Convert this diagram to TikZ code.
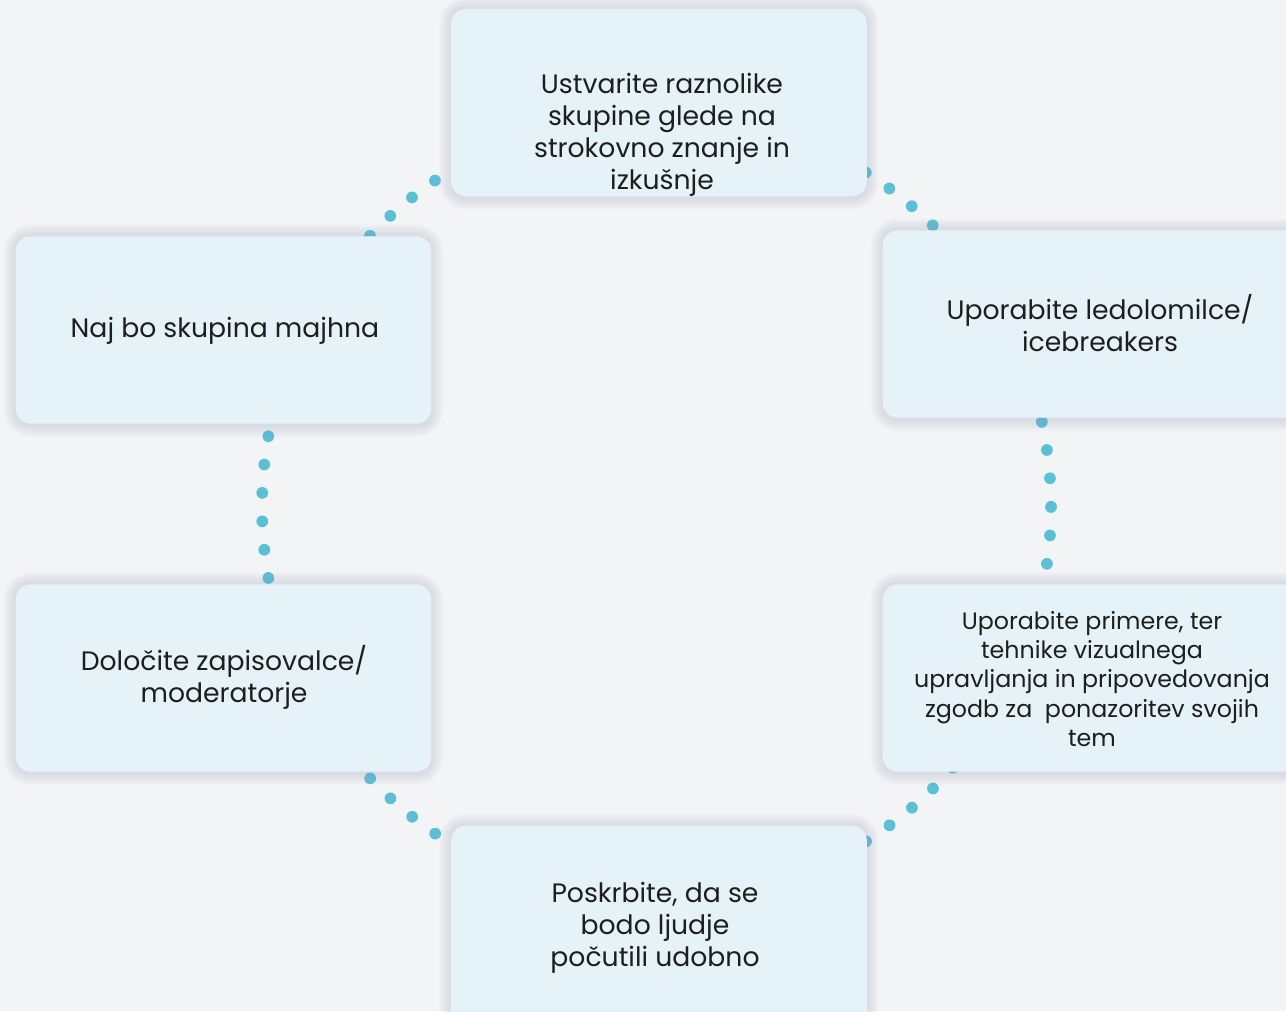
\documentclass[tikz,border=0pt]{standalone}
\usepackage{fontspec}
\setmainfont{Poppins}
\definecolor{bgcol}{HTML}{F3F4F6}
\definecolor{boxcol}{HTML}{E5F2F7}
\definecolor{dotcol}{HTML}{5BBFD6}
\definecolor{txtcol}{HTML}{1E1E1E}
\definecolor{glowcol}{HTML}{8E93B0}
\begin{document}
\begin{tikzpicture}[x=0.75pt,y=-0.75pt,
  card/.style={draw=none,fill=boxcol,rounded corners=11pt,inner sep=0pt,
    minimum width=#1},
  card/.default=311.25pt,
  lbl/.style={text=txtcol,align=center,font=\fontsize{20}{24}\selectfont,inner sep=0pt},
  lblsmall/.style={lbl,font=\fontsize{17.8}{21.8}\selectfont},
  ring/.style={draw=dotcol,line width=8.8pt,line cap=round,dash pattern=on 0pt off 21.369pt}
]
\clip (0,0) rectangle (1286,1011);
\fill[bgcol] (0,0) rectangle (1286,1011);

% soft glow under a card: stacked translucent rounded rectangles
\newcommand\cardglow[1]{%
  \foreach \g in {1,...,10}{%
    \fill[glowcol,opacity=0.022,rounded corners={11pt+0.9pt*\g}]
      ([xshift=-0.9pt*\g,yshift=0.9pt*\g]#1.north west)
      rectangle ([xshift=0.9pt*\g,yshift=-0.9pt*\g-1pt]#1.south east);}}

% dotted ring running behind the cards (87 dots round the circle)
\coordinate (hub) at (656.5,507);
\draw[ring] (hub) circle[radius=394.5];

% cards
\path node[card,minimum height=140.25pt] (top)   at (659,102.5) {}
      node[card,minimum height=140pt]    (ltop)  at (223.5,330) {}
      node[card,minimum height=140pt,minimum width=330pt] (rtop) at (1103,324) {}
      node[card,minimum height=140pt]    (lbot)  at (223.5,678) {}
      node[card,minimum height=140pt,minimum width=330pt] (rbot) at (1103,678) {}
      node[card,minimum height=150pt]    (bot)   at (659,926) {};
\foreach \c in {top,ltop,rtop,lbot,rbot,bot}{\cardglow{\c}}
\foreach \c in {top,ltop,rtop,lbot,rbot,bot}{%
  \fill[boxcol,rounded corners=11pt] (\c.north west) rectangle (\c.south east);}

% card texts
\node[lbl] (ttop) at (662,135) {Ustvarite raznolike\\skupine glede na\\strokovno znanje in\\izkušnje};
\node[lbl] (tltop) at (225,331) {Naj bo skupina majhna};
\node[lbl] (trtop) at (1100,323) {Uporabite ledolomilce/\\icebreakers};
\node[lbl] (tlbot) at (224,677) {Določite zapisovalce/\\moderatorje};
\node[lblsmall] (trbot) at (1092,679) {Uporabite primere, ter\\tehnike vizualnega\\upravljanja in pripovedovanja\\zgodb za\ \ ponazoritev svojih\\tem};
\node[lbl] (tbot) at (655,928) {Poskrbite, da se\\bodo ljudje\\počutili udobno};
\end{tikzpicture}
\end{document}
